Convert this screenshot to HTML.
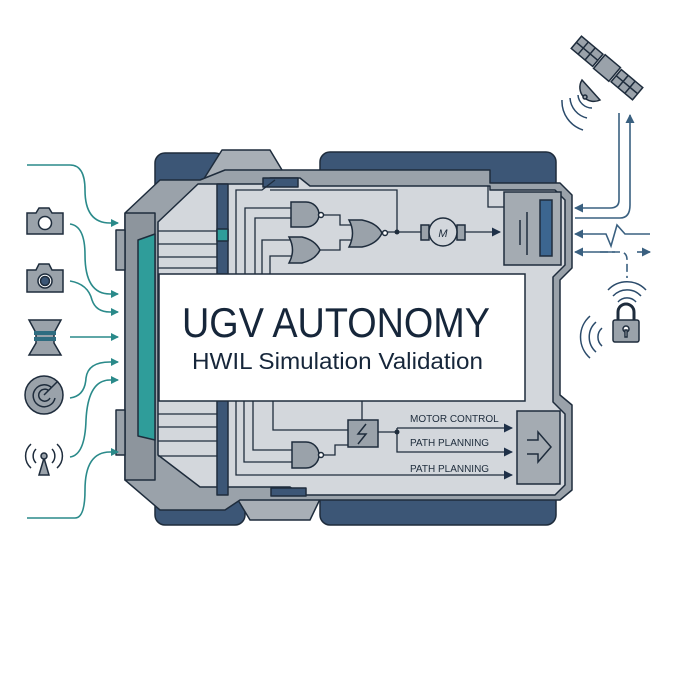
<!DOCTYPE html>
<html><head><meta charset="utf-8"><style>
html,body{margin:0;padding:0;background:#fff;width:676px;height:676px;overflow:hidden}
svg{display:block}
text{font-family:"Liberation Sans",sans-serif}
</style></head><body>
<svg width="676" height="676" viewBox="0 0 676 676" xmlns="http://www.w3.org/2000/svg">
<defs>
<marker id="ta" markerWidth="8" markerHeight="8" refX="7" refY="4" orient="auto" markerUnits="userSpaceOnUse"><path d="M0,0 L8,4 L0,8 Z" fill="#2a8a8a"/></marker>
<marker id="da" markerWidth="9" markerHeight="9" refX="8" refY="4.5" orient="auto" markerUnits="userSpaceOnUse"><path d="M0,0 L9,4.5 L0,9 Z" fill="#1e3048"/></marker>
<marker id="ba" markerWidth="9" markerHeight="9" refX="8" refY="4.5" orient="auto" markerUnits="userSpaceOnUse"><path d="M0,0 L9,4.5 L0,9 Z" fill="#3a6080"/></marker>
</defs>
<g stroke="#1e2c3c" stroke-width="1.5" stroke-linejoin="round">
<rect x="155" y="153" width="70" height="55" rx="10" fill="#3c5676"/>
<rect x="320" y="152" width="236" height="50" rx="10" fill="#3c5676"/>
<rect x="155" y="470" width="90" height="55" rx="10" fill="#3c5676"/>
<rect x="320" y="470" width="236" height="55" rx="10" fill="#3c5676"/>
<path d="M200,185 L222,150 L270,150 L285,175 L300,185 Z" fill="#a8afb6"/>
<path d="M235,495 L250,520 L310,520 L322,495 Z" fill="#a8afb6"/>
<path d="M125,213 L160,180 L200,180 L225,170 L490,170 L490,183 L560,183 L572,195 L572,268 L560,280 L560,395 L572,405 L572,490 L560,500 L240,500 L225,510 L160,510 L125,480 Z" fill="#9aa2aa"/>
<path d="M125,213 L155,213 L155,480 L125,480 Z" fill="#8d959d"/>
<rect x="116" y="230" width="9" height="40" fill="#9aa2aa"/>
<rect x="116" y="410" width="9" height="45" fill="#9aa2aa"/>
<path d="M138,240 L155,234 L155,440 L138,436 Z" fill="#2f9d9a"/>
<path d="M158,222 L198,184 L265,184 L270,178 L300,178 L310,186 L490,186 L490,190 L555,190 L565,200 L565,265 L553,277 L553,402 L565,414 L565,485 L555,495 L300,495 L290,487 L200,487 L158,455 Z" fill="#d3d7dc"/>
<rect x="263" y="178" width="35" height="9" fill="#3c5676"/>
<rect x="271" y="488" width="35" height="8" fill="#3c5676"/>
<rect x="217" y="184" width="11" height="90" fill="#3c5676"/>
<rect x="217" y="400" width="11" height="95" fill="#3c5676"/>
<rect x="217" y="229" width="11" height="12" fill="#2f9d9a"/>
</g>
<g stroke="#1e2c3c" stroke-width="1.3" fill="none">
<path d="M158,231 H217 M158,244 H217 M158,257 H217 M158,268 H217"/>
<path d="M158,414 H217 M158,427 H217 M158,441 H217 M158,456 H217"/>
<path d="M236,275 V190 H262 L275,180"/>
<path d="M270,190 H397 V232"/>
<path d="M245,275 V208 H291 M255,275 V218 H291"/>
<path d="M262,275 V240 H292 M270,275 V256 H292"/>
<path d="M322,215 H340 V225 H352 M318,250 H340 V240 H352"/>
<path d="M385,232 H421 M465,232 H500" marker-end="url(#da)"/>
<path d="M488,186 V207 H504"/>
<path d="M236,400 V475 H512" marker-end="url(#da)"/>
<path d="M244,400 V462 H292 M253,400 V450 H292"/>
<path d="M273,400 V430 H348"/>
<path d="M322,455 H335 V445 H348"/>
<path d="M362,400 V420"/>
<path d="M378,432 H397 M397,428 H512" marker-end="url(#da)"/>
<path d="M397,428 V452 H512" marker-end="url(#da)"/>
</g>
<circle cx="397" cy="232" r="2.5" fill="#1e2c3c"/>
<circle cx="397" cy="432" r="2.5" fill="#1e2c3c"/>
<g stroke="#1e2c3c" stroke-width="1.5" fill="#9aa2aa">
<path d="M291,202 H306 A13,12.5 0 0 1 306,227 H291 Z"/>
<circle cx="321" cy="215" r="2.5" fill="#fff"/>
<path d="M289,237 H302 Q315,240 320,250 Q315,260 302,263 H289 Q296,250 289,237 Z"/>
<path d="M349,220 H362 Q377,223 382,233 Q377,244 362,247 H349 Q356,233 349,220 Z"/>
<circle cx="385" cy="233" r="2.5" fill="#fff"/>
<rect x="421" y="225" width="8" height="15" fill="#9aa2aa"/>
<rect x="457" y="225" width="8" height="15" fill="#9aa2aa"/>
<circle cx="443" cy="232" r="14" fill="#d3d7dc"/>
<path d="M292,442 H306 A13,13 0 0 1 306,468 H292 Z"/>
<circle cx="321" cy="455" r="2.5" fill="#fff"/>
<rect x="348" y="420" width="30" height="27" fill="#9aa2aa"/>
<path d="M366,424 L358,434 H366 L358,444" fill="none"/>
<rect x="504" y="192" width="57" height="73" fill="#a4abb2"/>
<rect x="540" y="200" width="12" height="56" fill="#3c6690"/>
<path d="M520,220 V245 M527,212 V255" fill="none"/>
<rect x="517" y="411" width="43" height="73" fill="#a4abb2"/>
<path d="M527,440 H538 V432 L551,447 L538,462 V454 H527" fill="none"/>
</g>
<text x="443" y="237" font-size="11" text-anchor="middle" fill="#1e2c3c" font-style="italic">M</text>
<rect x="159" y="274" width="366" height="127" fill="#fff" stroke="#1e2c3c" stroke-width="1.5"/>
<text x="182" y="337" font-size="42" textLength="308" lengthAdjust="spacingAndGlyphs" fill="#16263a">UGV AUTONOMY</text>
<text x="192" y="369" font-size="23" textLength="291" lengthAdjust="spacingAndGlyphs" fill="#16263a">HWIL Simulation Validation</text>
<text x="410" y="422" font-size="10" fill="#1e2c3c">MOTOR CONTROL</text>
<text x="410" y="446" font-size="10" fill="#1e2c3c">PATH PLANNING</text>
<text x="410" y="472" font-size="10" fill="#1e2c3c">PATH PLANNING</text>
<g stroke="#2a8a8a" stroke-width="1.6" fill="none" marker-end="url(#ta)">
<path d="M27,165 H70 Q85,165 85,190 Q85,223 110,223 H118"/>
<path d="M70,224 Q85,226 85,255 Q85,294 110,294 H118"/>
<path d="M70,281 Q88,284 92,300 Q96,312 110,312 H118"/>
<path d="M70,337 H118"/>
<path d="M70,398 Q85,396 86,378 Q88,362 110,362 H118"/>
<path d="M70,457 Q85,455 86,420 Q88,380 110,380 H118"/>
<path d="M27,518 H75 Q85,518 85,490 Q85,452 110,452 H118"/>
</g>
<g stroke="#1e2c3c" stroke-width="1.5" fill="#9aa2aa">
<path d="M27,213 H36 L39,208 H49 L52,213 H63 V234 H27 Z"/>
<circle cx="45" cy="223" r="6.5" fill="#fff"/>
<path d="M27,270 H36 L39,264 H49 L52,270 H63 V292 H27 Z"/>
<circle cx="45" cy="281" r="7" fill="#fff"/><circle cx="45" cy="281" r="4.5" fill="#3c5676"/>
<path d="M29,320 H61 L54,333 L54,343 L61,355 H29 L36,343 L36,333 Z"/>
<rect x="34" y="331" width="22" height="4" fill="#2f6c80" stroke="none"/>
<rect x="34" y="337" width="22" height="4" fill="#2f6c80" stroke="none"/>
<circle cx="44" cy="395" r="19"/>
<path d="M52,388 A11,11 0 1 0 55,398 M49,391 A6,6 0 1 0 50,398 M44,395 L58,381" fill="none"/>
<path d="M39,475 L44,458 L49,475 Z"/>
<circle cx="44" cy="456" r="3"/>
<path d="M36,449 A10,10 0 0 0 36,463 M52,449 A10,10 0 0 1 52,463 M31,444 A16,16 0 0 0 31,468 M57,444 A16,16 0 0 1 57,468" fill="none"/>
</g>
<g stroke="#1e2c3c" stroke-width="1.5" fill="#9aa2aa">
<g transform="rotate(40 607 68)">
<rect x="597" y="59" width="20" height="18"/>
<rect x="567" y="60" width="28" height="16"/>
<path d="M576,60 V76 M585,60 V76 M567,68 H595" fill="none"/>
<rect x="619" y="60" width="28" height="16"/>
<path d="M628,60 V76 M637,60 V76 M619,68 H647" fill="none"/>
</g>
<path d="M582,80 A14,14 0 0 0 600,100 Z"/>
<circle cx="585" cy="97" r="2"/>
<path d="M578,95 A14,14 0 0 0 592,108 M570,98 A22,22 0 0 0 587,118 M562,100 A30,30 0 0 0 583,130" fill="none" stroke="#2a4a6a"/>
</g>
<g stroke="#3a6080" stroke-width="1.6" fill="none">
<path d="M619,113 V200 Q619,208 610,208 H575" marker-end="url(#ba)"/>
<path d="M575,218 H620 Q630,218 630,205 V115" marker-end="url(#ba)"/>
<path d="M650,234 H625 L617,225 L611,246 L606,234 H575" marker-end="url(#ba)"/>
<path d="M615,252 H575" marker-end="url(#ba)"/>
<path d="M600,252 H620 Q627,252 627,260 V278" stroke-dasharray="8,4"/>
<path d="M637,252 H650" marker-end="url(#ba)"/>
</g>
<g stroke="#1e2c3c" stroke-width="1.5" fill="#9aa2aa">
<path d="M618,320 V312 A8,8 0 0 1 634,312 V320" fill="none" stroke-width="3"/>
<rect x="613" y="320" width="26" height="22" rx="2"/>
<circle cx="626" cy="329" r="3" fill="#fff"/><rect x="625" y="330" width="2" height="7" fill="#fff"/>
<path d="M618,302 A12,12 0 0 1 636,302 M613,296 A19,19 0 0 1 641,296 M608,290 A26,26 0 0 1 646,290" fill="none" stroke="#2a4a6a"/>
<path d="M602,328 A12,12 0 0 0 602,346 M596,322 A20,20 0 0 0 596,352 M590,316 A28,28 0 0 0 590,358" fill="none" stroke="#2a4a6a"/>
</g>
</svg>
</body></html>
